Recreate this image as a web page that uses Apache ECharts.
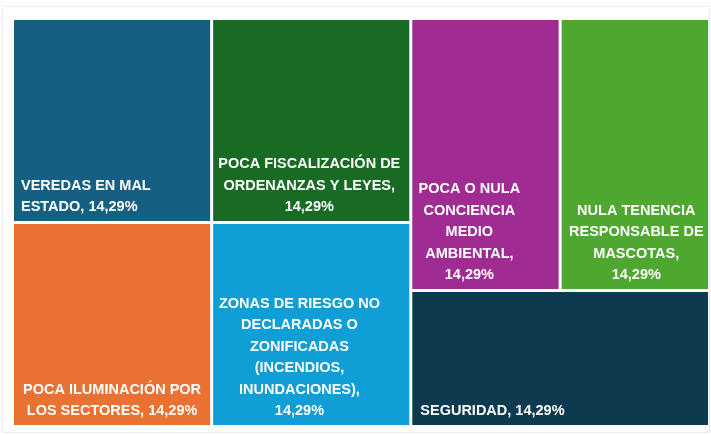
<!DOCTYPE html>
<html>
<head>
<meta charset="utf-8">
<script src="https://cdn.jsdelivr.net/npm/echarts@6/dist/echarts.min.js"></script>
<style>
  html, body { margin: 0; padding: 0; background: #ffffff; }
  #frame { position: absolute; left: 2px; top: 6px; width: 708px; height: 427px; border: 1px solid #ededed; box-sizing: border-box; }
  #chart { position: absolute; left: 0; top: 0; width: 711px; height: 435px; }
</style>
</head>
<body>
<div id="frame"></div>
<div id="chart"></div>
<script>
// ---- data ----
const categories = [
  "VEREDAS EN MAL ESTADO",
  "POCA ILUMINACIÓN POR LOS SECTORES",
  "POCA FISCALIZACIÓN DE ORDENANZAS Y LEYES",
  "ZONAS DE RIESGO NO DECLARADAS O ZONIFICADAS (INCENDIOS, INUNDACIONES)",
  "POCA O NULA CONCIENCIA MEDIO AMBIENTAL",
  "NULA TENENCIA RESPONSABLE DE MASCOTAS",
  "SEGURIDAD"
];
const values = [14.29, 14.29, 14.29, 14.29, 14.29, 14.29, 14.29];
// label text as wrapped in the picture (percentage appended from values)
const labelTexts = [
  "VEREDAS EN MAL\nESTADO, ",
  "POCA ILUMINACIÓN POR\nLOS SECTORES, ",
  "POCA FISCALIZACIÓN DE\nORDENANZAS Y LEYES,\n",
  "ZONAS DE RIESGO NO\nDECLARADAS O\nZONIFICADAS\n(INCENDIOS,\nINUNDACIONES),\n",
  "POCA O NULA\nCONCIENCIA\nMEDIO\nAMBIENTAL,\n",
  "NULA TENENCIA\nRESPONSABLE DE\nMASCOTAS,\n",
  "SEGURIDAD, "
];
// grouping of the tiles (index lists)
const groups = [[[0, 1], [2, 3]], [4, 5, 6]];

// ---- styles ----
const colors = ["#156082", "#E97132", "#196B24", "#0F9ED5", "#A02B93", "#4EA72E", "#0E3A50"];
const labelAnchor = [
  { x: 7, align: "left" },
  { x: "50%", align: "center" },
  { x: "49%", align: "center" },
  { x: "44%", align: "center" },
  { x: "39%", align: "center" },
  { x: "51%", align: "center" },
  { x: 8, align: "left" }
];

function fmtPct(v) { return v.toFixed(2).replace(".", ",") + "%"; }

function leaf(i) {
  return {
    name: categories[i],
    value: values[i],
    itemStyle: { color: colors[i] },
    label: {
      formatter: labelTexts[i] + fmtPct(values[i]),
      position: [labelAnchor[i].x, "100%"],
      align: labelAnchor[i].align,
      verticalAlign: "bottom",
      offset: [0, -3]
    }
  };
}
function build(node, idx) {
  if (typeof node === "number") return leaf(node);
  return { name: "g" + idx, children: node.map((c, k) => build(c, idx + "_" + k)) };
}
const treeData = groups.map((g, k) => build(g, String(k)));

const chart = echarts.init(document.getElementById("chart"), null, { renderer: "canvas" });
chart.setOption({
  animation: false,
  tooltip: { show: false },
  series: [{
    type: "treemap",
    left: 14, top: 20, right: 3, bottom: 10,
    roam: false,
    nodeClick: false,
    sort: false,
    breadcrumb: { show: false },
    itemStyle: { borderWidth: 0, gapWidth: 3, borderColor: "#ffffff" },
    upperLabel: { show: false },
    label: {
      show: true,
      padding: 0,
      color: "#ffffff",
      fontFamily: "Liberation Sans",
      fontWeight: "bold",
      fontSize: 14.5,
      lineHeight: 21.5
    },
    emphasis: { disabled: true },
    data: treeData
  }]
});
</script>
</body>
</html>
